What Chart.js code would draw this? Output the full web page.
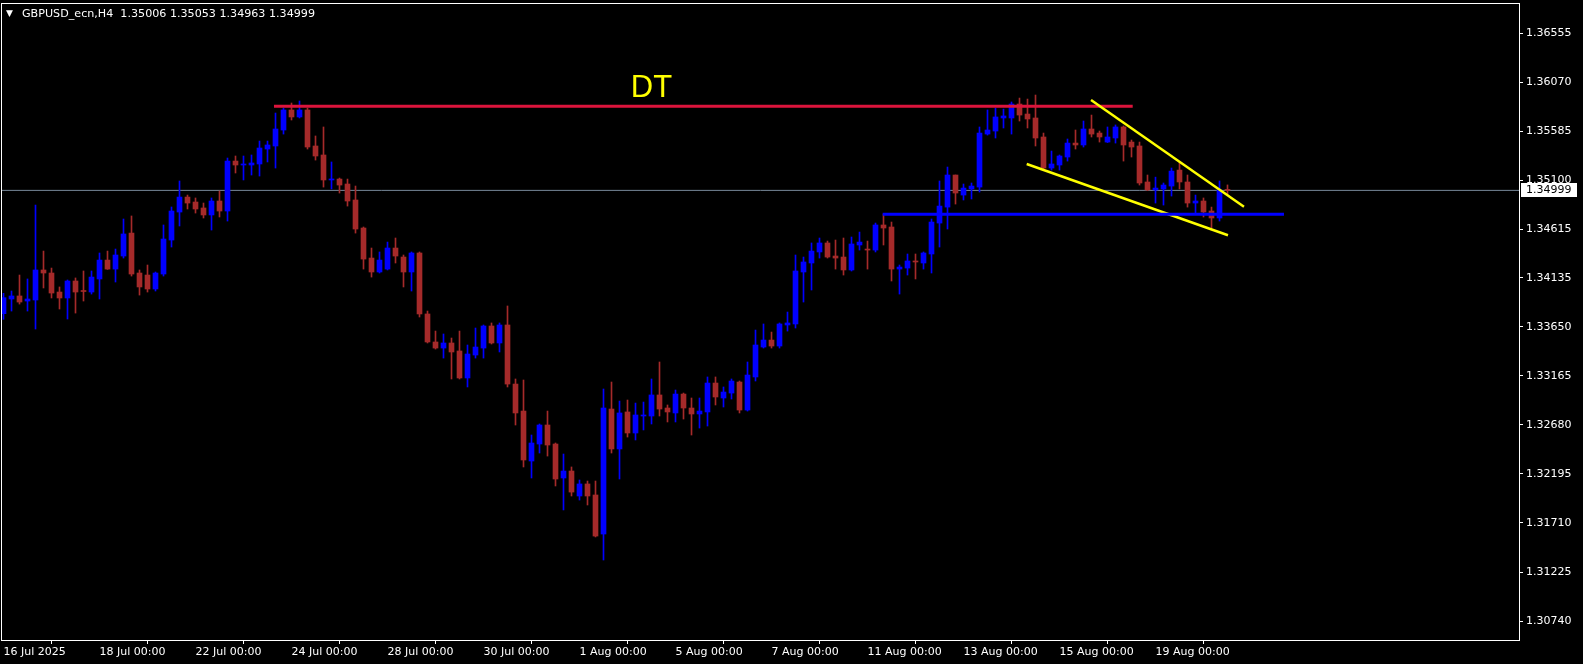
<!DOCTYPE html>
<html><head><meta charset="utf-8">
<script src="https://cdn.jsdelivr.net/npm/chart.js@4.4.1/dist/chart.umd.min.js"></script>
<style>html,body{margin:0;padding:0;background:#000;overflow:hidden}canvas{display:block}</style>
</head><body>
<canvas id="c" width="1583" height="664"></canvas>
<script>
// ---------------- DATA ----------------
const symbolTitle = "GBPUSD_ecn,H4";
const lastQuote = [1.35006, 1.35053, 1.34963, 1.34999]; // O H L C of last bar

const openP = [
1.33780,1.33925,1.33955,1.33905,1.33915,1.34212,1.34182,1.33994,1.33935,1.34103,
1.34009,1.33994,1.34123,1.34310,1.34221,1.34350,1.34577,1.34182,1.34162,1.34024,
1.34172,1.34508,1.34785,1.34933,1.34884,1.34825,1.34756,1.34894,1.34795,1.35289,
1.35250,1.35250,1.35260,1.35408,1.35438,1.35596,1.35794,1.35725,1.35794,1.35438,
1.35349,1.35102,1.35111,1.35062,1.34904,1.34627,1.34330,1.34192,1.34221,1.34429,
1.34340,1.34192,1.34380,1.33777,1.33500,1.33440,1.33490,1.33411,1.33144,1.33371,
1.33440,1.33658,1.33490,1.33668,1.33084,1.32817,1.32323,1.32491,1.32679,1.32491,
1.32155,1.32224,1.31977,1.32096,1.31987,1.31601,1.32837,1.32442,1.32808,1.32600,
1.32768,1.32768,1.32976,1.32847,1.32798,1.32985,1.32847,1.32788,1.32808,1.33094,
1.32946,1.32995,1.33104,1.32827,1.33154,1.33450,1.33519,1.33460,1.33668,1.33678,
1.34192,1.34281,1.34390,1.34479,1.34350,1.34340,1.34212,1.34459,1.34419,1.34409,
1.34657,1.34637,1.34221,1.34231,1.34301,1.34281,1.34370,1.34676,1.34834,1.35151,
1.34953,1.35013,1.35032,1.35556,1.35586,1.35715,1.35715,1.35853,1.35754,1.35715,
1.35527,1.35220,1.35250,1.35329,1.35467,1.35448,1.35606,1.35566,1.35477,1.35517,
1.35626,1.35477,1.35438,1.35082,1.35003,1.35013,1.35042,1.35200,1.35082,1.34874,
1.34894,1.34795,1.34726,1.35006];
const highP = [
1.33981,1.34004,1.34162,1.34123,1.34854,1.34399,1.34231,1.34044,1.34113,1.34133,
1.34202,1.34202,1.34380,1.34399,1.34419,1.34716,1.34746,1.34212,1.34261,1.34192,
1.34657,1.34835,1.35092,1.34953,1.34924,1.34874,1.34924,1.34993,1.35319,1.35339,
1.35339,1.35349,1.35487,1.35487,1.35764,1.35813,1.35863,1.35883,1.35813,1.35537,
1.35626,1.35280,1.35121,1.35111,1.35042,1.34637,1.34429,1.34390,1.34488,1.34528,
1.34360,1.34390,1.34390,1.33806,1.33608,1.33579,1.33539,1.33608,1.33470,1.33638,
1.33668,1.33688,1.33688,1.33856,1.33134,1.33124,1.32580,1.32689,1.32817,1.32501,
1.32392,1.32264,1.32135,1.32125,1.32125,1.33035,1.33104,1.32916,1.32926,1.32896,
1.32906,1.33134,1.33302,1.32877,1.33025,1.32995,1.32946,1.32946,1.33154,1.33154,
1.33055,1.33134,1.33114,1.33302,1.33618,1.33678,1.33598,1.33688,1.33796,1.34360,
1.34340,1.34479,1.34528,1.34498,1.34508,1.34528,1.34538,1.34587,1.34498,1.34676,
1.34765,1.34686,1.34261,1.34370,1.34370,1.34390,1.34716,1.35092,1.35230,1.35151,
1.35062,1.35072,1.35626,1.35794,1.35813,1.35803,1.35873,1.35912,1.35902,1.35942,
1.35566,1.35388,1.35349,1.35507,1.35596,1.35685,1.35744,1.35586,1.35626,1.35646,
1.35636,1.35497,1.35477,1.35151,1.35130,1.35072,1.35220,1.35280,1.35151,1.34953,
1.34924,1.34834,1.35092,1.35053];
const lowP = [
1.33724,1.33806,1.33875,1.33806,1.33628,1.34034,1.33935,1.33826,1.33727,1.33786,
1.33905,1.33974,1.33925,1.34218,1.34093,1.34330,1.34152,1.33964,1.33994,1.34004,
1.34152,1.34439,1.34647,1.34815,1.34775,1.34726,1.34607,1.34736,1.34696,1.35171,
1.35102,1.35151,1.35141,1.35280,1.35220,1.35556,1.35695,1.35715,1.35408,1.35299,
1.35032,1.35013,1.34973,1.34844,1.34577,1.34221,1.34142,1.34182,1.34212,1.34281,
1.34044,1.34004,1.33747,1.33490,1.33430,1.33341,1.33134,1.33134,1.33055,1.33341,
1.33341,1.33480,1.33401,1.33055,1.32679,1.32264,1.32155,1.32402,1.32372,1.32076,
1.31839,1.31977,1.31937,1.31888,1.31572,1.31344,1.32402,1.32145,1.32560,1.32531,
1.32630,1.32689,1.32768,1.32709,1.32709,1.32738,1.32580,1.32649,1.32669,1.32877,
1.32857,1.32936,1.32798,1.32817,1.33114,1.33440,1.33440,1.33440,1.33608,1.33638,
1.33895,1.34014,1.34330,1.34330,1.34221,1.34162,1.34202,1.34409,1.34221,1.34390,
1.34459,1.34103,1.33974,1.34162,1.34123,1.34221,1.34182,1.34439,1.34617,1.34864,
1.34904,1.34914,1.34983,1.35546,1.35517,1.35616,1.35556,1.35685,1.35616,1.35438,
1.35200,1.35200,1.35200,1.35289,1.35408,1.35428,1.35527,1.35477,1.35472,1.35467,
1.35289,1.35329,1.35052,1.34998,1.34874,1.34854,1.34943,1.35013,1.34834,1.34775,
1.34736,1.34627,1.34696,1.34963];
const closeP = [
1.33938,1.33955,1.33895,1.33925,1.34212,1.34182,1.33984,1.33935,1.34103,1.33994,
1.33999,1.34142,1.34310,1.34221,1.34360,1.34568,1.34172,1.34044,1.34024,1.34182,
1.34518,1.34795,1.34933,1.34874,1.34815,1.34756,1.34894,1.34795,1.35289,1.35250,
1.35260,1.35270,1.35418,1.35448,1.35606,1.35794,1.35725,1.35794,1.35428,1.35339,
1.35102,1.35111,1.35052,1.34894,1.34617,1.34320,1.34192,1.34310,1.34429,1.34350,
1.34192,1.34380,1.33777,1.33500,1.33440,1.33490,1.33401,1.33144,1.33381,1.33450,
1.33658,1.33490,1.33668,1.33084,1.32798,1.32333,1.32501,1.32679,1.32481,1.32145,
1.32224,1.32016,1.32096,1.31977,1.31581,1.32847,1.32442,1.32798,1.32600,1.32778,
1.32778,1.32976,1.32837,1.32808,1.32985,1.32847,1.32788,1.32817,1.33094,1.32956,
1.33005,1.33114,1.32827,1.33173,1.33470,1.33519,1.33460,1.33678,1.33688,1.34202,
1.34291,1.34399,1.34479,1.34340,1.34330,1.34212,1.34469,1.34488,1.34409,1.34657,
1.34627,1.34221,1.34241,1.34301,1.34291,1.34380,1.34686,1.34844,1.35151,1.34973,
1.35022,1.35042,1.35566,1.35596,1.35725,1.35735,1.35853,1.35744,1.35705,1.35517,
1.35220,1.35260,1.35339,1.35467,1.35448,1.35606,1.35556,1.35527,1.35527,1.35626,
1.35448,1.35428,1.35072,1.35003,1.35022,1.35052,1.35190,1.35082,1.34874,1.34894,
1.34785,1.34726,1.35004,1.34999];

const dateTickIndex = [0,12,24,36,48,60,72,84,96,108,120,132,144];
const dateTickLabels = ["16 Jul 2025","18 Jul 00:00","22 Jul 00:00","24 Jul 00:00","28 Jul 00:00",
  "30 Jul 00:00","1 Aug 00:00","5 Aug 00:00","7 Aug 00:00","11 Aug 00:00","13 Aug 00:00",
  "15 Aug 00:00","19 Aug 00:00"];
const priceTicks = [1.36555,1.36070,1.35585,1.35100,1.34615,1.34135,1.33650,1.33165,1.32680,
  1.32195,1.31710,1.31225,1.30740];
const priceTickLabels = ["1.36555","1.36070","1.35585","1.35100","1.34615","1.34135","1.33650",
  "1.33165","1.32680","1.32195","1.31710","1.31225","1.30740"];

// drawn objects (bar index, price)
const dtLineX = [33.81, 141.15];
const dtLineY = [1.35830, 1.35830];
const supportLineX = [109.9, 160.06];
const supportLineY = [1.34762, 1.34762];
const wedgeUpperX = [135.94, 155.06];
const wedgeUpperY = [1.35893, 1.34837];
const wedgeLowerX = [127.9, 153.06];
const wedgeLowerY = [1.35260, 1.34555];
const patternLabel = "DT";
const patternLabelPos = [81.0, 1.35925];

// ---------------- CHART ----------------
const BULL = '#0000FF', BEAR = '#A52A2A';
const colors = openP.map((o,i) => closeP[i] >= o ? BULL : BEAR);
const wickData = openP.map((o,i) => ({x:i, y:[lowP[i], highP[i]]}));
const bodyData = openP.map((o,i) => ({x:i, y:[Math.min(o, closeP[i]), Math.max(o, closeP[i])]}));
const pts = (xs, ys) => xs.map((x,i) => ({x, y: ys[i]}));
const X_MIN = -0.1875, X_MAX = 189.4375;

const overlay = {
  id: 'overlay',
  beforeDraw(chart) {
    const c = chart.ctx;
    c.save(); c.fillStyle = '#000'; c.fillRect(0, 0, chart.width, chart.height); c.restore();
  },
  afterDraw(chart) {
    const c = chart.ctx, a = chart.chartArea, xs = chart.scales.x, ys = chart.scales.y;
    c.save();
    // frame
    c.strokeStyle = '#fff'; c.lineWidth = 1;
    c.strokeRect(a.left - 0.5, a.top + 0.5, a.right - a.left + 1, a.bottom - a.top);
    // header
    c.fillStyle = '#fff';
    c.textBaseline = 'alphabetic';
    c.font = '9px "DejaVu Sans"';
    c.fillText('\u25BC', 6, 16);
    const txt = symbolTitle + '  ' + lastQuote.map(v => v.toFixed(5)).join(' ');
    c.font = '11px "DejaVu Sans"';
    const w = c.measureText(txt).width;
    const fs = 11 * 293 / w;
    c.font = fs.toFixed(2) + 'px "DejaVu Sans"';
    c.fillText(txt, 22, 16.5);
    // pattern label
    c.fillStyle = '#FFFF00';
    c.font = '31px "Liberation Sans"';
    c.textAlign = 'center';
    c.fillText(patternLabel, xs.getPixelForValue(patternLabelPos[0]), ys.getPixelForValue(patternLabelPos[1]));
    // price box
    const py = ys.getPixelForValue(lastQuote[3]);
    c.fillStyle = '#fff';
    c.fillRect(a.right + 2, Math.round(py) - 7, 56, 14);
    c.fillStyle = '#000';
    c.textAlign = 'left'; c.textBaseline = 'middle';
    c.font = '11px "DejaVu Sans"';
    c.fillText(lastQuote[3].toFixed(5), a.right + 7, Math.round(py));
    c.restore();
  }
};

new Chart(document.getElementById('c'), {
  type: 'bar',
  data: {
    datasets: [
      { type:'line', label:'bid', data: pts([X_MIN, X_MAX],[lastQuote[3], lastQuote[3]]),
        borderColor:'#778899', borderWidth:1, pointRadius:0, order:10 },
      { label:'wicks', data: wickData, backgroundColor: colors, barThickness:1, grouped:false,
        borderWidth:0, order:6 },
      { label:'bodies', data: bodyData, backgroundColor: colors, barThickness:5, grouped:false,
        borderWidth:0, minBarLength:1, order:5 },
      { type:'line', label:'dt', data: pts(dtLineX, dtLineY), borderColor:'#DC143C', borderWidth:3,
        pointRadius:0, order:2 },
      { type:'line', label:'wedgeU', data: pts(wedgeUpperX, wedgeUpperY), borderColor:'#FFFF00',
        borderWidth:2.5, pointRadius:0, order:1 },
      { type:'line', label:'wedgeL', data: pts(wedgeLowerX, wedgeLowerY), borderColor:'#FFFF00',
        borderWidth:2.5, pointRadius:0, order:1 },
      { type:'line', label:'support', data: pts(supportLineX, supportLineY), borderColor:'#0000FF',
        borderWidth:3, pointRadius:0, order:0 }
    ]
  },
  options: {
    responsive: false, animation: false, events: [], devicePixelRatio: 1,
    layout: { padding: { left: 2, top: 3, right: 0, bottom: 0 } },
    plugins: { legend: { display:false }, tooltip: { enabled:false } },
    scales: {
      x: {
        type:'linear', min:X_MIN, max:X_MAX, offset:false, position:'bottom',
        afterBuildTicks: s => { s.ticks = dateTickIndex.map(v => ({value:v})); },
        afterFit: s => { s.height = 24; s.paddingLeft = 0; s.paddingRight = 0; },
        ticks: { autoSkip:false, maxRotation:0, minRotation:0, align:'start', color:'#fff', padding:2,
          font:{ family:'DejaVu Sans', size:11 },
          callback: v => { const i = dateTickIndex.indexOf(v); return i >= 0 ? dateTickLabels[i] : ''; } },
        grid: { display:true, drawOnChartArea:false, drawTicks:true, tickLength:4, color:'#fff' },
        border: { display:true, color:'#fff' }
      },
      y: {
        type:'linear', position:'right', min:1.30553, max:1.36852,
        afterBuildTicks: s => { s.ticks = priceTicks.map(v => ({value:v})); },
        afterFit: s => { s.width = 64; s.paddingTop = 0; s.paddingBottom = 0; },
        ticks: { color:'#fff', padding:3, font:{ family:'DejaVu Sans', size:11 },
          callback: v => { const i = priceTicks.indexOf(v); return i >= 0 ? priceTickLabels[i] : ''; } },
        grid: { display:true, drawOnChartArea:false, drawTicks:true, tickLength:4, color:'#fff' },
        border: { display:true, color:'#fff' }
      }
    }
  },
  plugins: [overlay]
});
</script>
</body></html>
